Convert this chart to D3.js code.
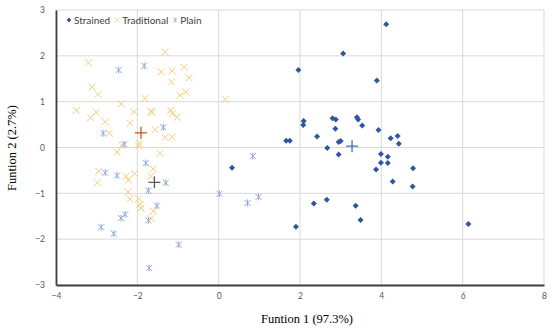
<!DOCTYPE html>
<html>
<head>
<meta charset="utf-8">
<script src="https://cdn.jsdelivr.net/npm/d3@7"></script>
<style>
  body { margin: 0; background: #fff; }
  svg { display: block; }
</style>
</head>
<body>
<div id="chart"></div>
<script>
// discriminant scores
const strained = [
  [4.12, 2.69], [3.06, 2.05], [1.96, 1.69], [3.89, 1.46], [2.09, 0.58], [2.08, 0.49],
  [2.80, 0.64], [2.88, 0.61], [3.40, 0.66], [3.43, 0.61], [3.53, 0.48], [2.87, 0.41],
  [3.93, 0.38], [2.42, 0.24], [4.23, 0.20], [4.40, 0.25], [4.43, 0.08], [1.66, 0.15],
  [1.75, 0.15], [2.95, 0.12], [3.00, 0.14], [2.67, -0.01], [2.95, -0.15], [3.99, -0.14],
  [4.16, -0.20], [3.99, -0.33], [4.16, -0.34], [3.87, -0.48], [4.78, -0.45], [4.28, -0.74],
  [4.77, -0.85], [2.34, -1.22], [2.66, -1.14], [3.37, -1.27], [3.49, -1.58], [1.90, -1.73],
  [6.14, -1.67], [0.33, -0.44]
];
const traditional = [
  [-1.32, 2.08], [-3.20, 1.85], [-1.42, 1.65], [-1.14, 1.67], [-0.85, 1.75], [-0.73, 1.52],
  [-1.16, 1.43], [-3.11, 1.32], [-2.97, 1.16], [-0.95, 1.14], [-0.81, 1.21], [-1.81, 1.07],
  [0.16, 1.05], [-3.50, 0.81], [-3.01, 0.77], [-3.15, 0.65], [-2.40, 0.95], [-2.08, 0.78],
  [-1.67, 0.79], [-1.64, 0.77], [-1.18, 0.81], [-1.14, 0.74], [-1.02, 0.66], [-2.79, 0.56],
  [-2.18, 0.53], [-1.56, 0.39], [-1.32, 0.22], [-1.14, 0.23], [-2.69, 0.31], [-2.38, 0.05],
  [-1.95, 0.09], [-1.97, 0.03], [-2.50, -0.10], [-1.44, -0.13], [-1.61, -0.47], [-2.95, -0.52],
  [-2.98, -0.77], [-2.28, -0.63], [-2.07, -0.57], [-2.22, -0.71], [-1.67, -0.63], [-2.23, -0.97],
  [-2.18, -1.12], [-1.97, -1.12], [-1.93, -1.24], [-1.91, -1.32], [-1.61, -1.39], [-1.66, -1.55]
];
const plain = [
  [-2.46, 1.69], [-1.83, 1.78], [-1.36, 0.44], [-2.84, 0.31], [-2.32, 0.07], [-1.79, -0.34],
  [-2.79, -0.55], [-2.50, -0.61], [-1.30, -0.77], [-1.73, -0.94], [0.02, -1.01], [0.71, -1.21],
  [0.98, -1.08], [0.84, -0.19], [-1.52, -1.27], [-2.30, -1.46], [-2.40, -1.54], [-1.73, -1.59],
  [-2.89, -1.74], [-2.58, -1.88], [-0.98, -2.12], [-1.71, -2.63]
];
// group centroids: strained, traditional, plain
const centroids = [[3.28, 0.03], [-1.91, 0.32], [-1.58, -0.76]];
const centroidColors = ["#4472c4", "#c55a11", "#595959"];

const xTicks = [-4, -2, 0, 2, 4, 6, 8];
const yTicks = [-3, -2, -1, 0, 1, 2, 3];
const seriesNames = ["Strained", "Traditional", "Plain"];

const W = 550, H = 332;
const margin = { top: 10, right: 6, bottom: 47, left: 56 };
const width = W - margin.left - margin.right;
const height = H - margin.top - margin.bottom;

const colStrained = "#2f55a3", colTrad = "#f6cd7a", colPlain = "#8eaadb";
const sans = "Lato, Open Sans, sans-serif";

const x = d3.scaleLinear().domain([-4, 8]).range([0, width]);
const y = d3.scaleLinear().domain([-3, 3]).range([height, 0]);

const svg = d3.select("#chart").append("svg")
    .attr("width", W)
    .attr("height", H);

const g = svg.append("g")
    .attr("transform", `translate(${margin.left},${margin.top})`);

// grid
g.append("g")
    .selectAll("line")
    .data(xTicks)
    .join("line")
    .attr("x1", d => x(d)).attr("x2", d => x(d))
    .attr("y1", 0).attr("y2", height)
    .attr("stroke", "#d9d9d9");
g.append("g")
    .selectAll("line")
    .data(yTicks)
    .join("line")
    .attr("x1", 0).attr("x2", width)
    .attr("y1", d => y(d)).attr("y2", d => y(d))
    .attr("stroke", "#d9d9d9");

// axes
const xAxis = d3.axisBottom(x).tickValues(xTicks).tickFormat(d3.format("d")).tickSize(0).tickPadding(8);
const yAxis = d3.axisLeft(y).tickValues(yTicks).tickFormat(d3.format("d")).tickSize(0).tickPadding(11);

g.append("g")
    .attr("transform", `translate(0,${height})`)
    .call(xAxis)
    .call(a => a.select(".domain").attr("stroke", "#404040").attr("stroke-width", 1.8))
    .call(a => a.selectAll("text").attr("fill", "#595959").attr("font-size", 8.5)
        .attr("font-family", sans));
g.append("g")
    .call(yAxis)
    .call(a => a.select(".domain").attr("stroke", "#404040").attr("stroke-width", 1.8))
    .call(a => a.selectAll("text").attr("fill", "#595959").attr("font-size", 8.5)
        .attr("font-family", sans));

// markers
function diamond(sel, color) {
  sel.append("path")
      .attr("d", "M0,-3 L3,0 L0,3 L-3,0 Z")
      .attr("fill", color);
}
function cross(sel, color) {
  sel.append("path")
      .attr("d", "M-3.5,-3.5 L3.5,3.5 M-3.5,3.5 L3.5,-3.5")
      .attr("stroke", color).attr("stroke-width", 1).attr("fill", "none");
}
function star(sel, color) {
  sel.append("path")
      .attr("d", "M-3,-3 L3,3 M-3,3 L3,-3 M0,-3.5 L0,3.5")
      .attr("stroke", color).attr("stroke-width", 1).attr("fill", "none");
}

g.append("g").selectAll("g")
    .data(traditional)
    .join("g")
    .attr("transform", d => `translate(${x(d[0])},${y(d[1])})`)
    .each(function () { cross(d3.select(this), colTrad); });

g.append("g").selectAll("g")
    .data(plain)
    .join("g")
    .attr("transform", d => `translate(${x(d[0])},${y(d[1])})`)
    .each(function () { star(d3.select(this), colPlain); });

g.append("g").selectAll("g")
    .data(strained)
    .join("g")
    .attr("transform", d => `translate(${x(d[0])},${y(d[1])})`)
    .each(function () { diamond(d3.select(this), colStrained); });

// centroids
g.append("g").selectAll("path")
    .data(centroids)
    .join("path")
    .attr("transform", d => `translate(${x(d[0])},${y(d[1])})`)
    .attr("d", "M-6,0 L6,0 M0,-6 L0,6")
    .attr("stroke", (d, i) => centroidColors[i])
    .attr("stroke-width", 1.3);

// legend, items placed one after another
const legend = svg.append("g")
    .attr("transform", "translate(69,20)")
    .attr("font-family", sans)
    .attr("font-size", 10)
    .attr("fill", "#404040");
const legMarks = [
  s => diamond(s, colStrained),
  s => cross(s, colTrad),
  s => star(s, colPlain)
];
let lx = 0;
seriesNames.forEach((name, i) => {
  const item = legend.append("g").attr("transform", `translate(${lx},0)`);
  const m = item.append("g").attr("transform", i === 0 ? "scale(0.8)" : "scale(0.75)");
  legMarks[i](m);
  const t = item.append("text").attr("x", 5).attr("y", 3.6).text(name);
  lx += 5 + t.node().getComputedTextLength() + 7;
});

// axis titles
svg.append("text")
    .attr("x", 307).attr("y", 323)
    .attr("text-anchor", "middle")
    .attr("font-family", "Liberation Serif, serif")
    .attr("font-size", 12.5)
    .attr("fill", "#000")
    .text("Funtion 1 (97.3%)");
svg.append("text")
    .attr("transform", "translate(16,148) rotate(-90)")
    .attr("text-anchor", "middle")
    .attr("font-family", "Liberation Serif, serif")
    .attr("font-size", 12.5)
    .attr("fill", "#000")
    .text("Funtion 2 (2.7%)");
</script>
</body>
</html>
